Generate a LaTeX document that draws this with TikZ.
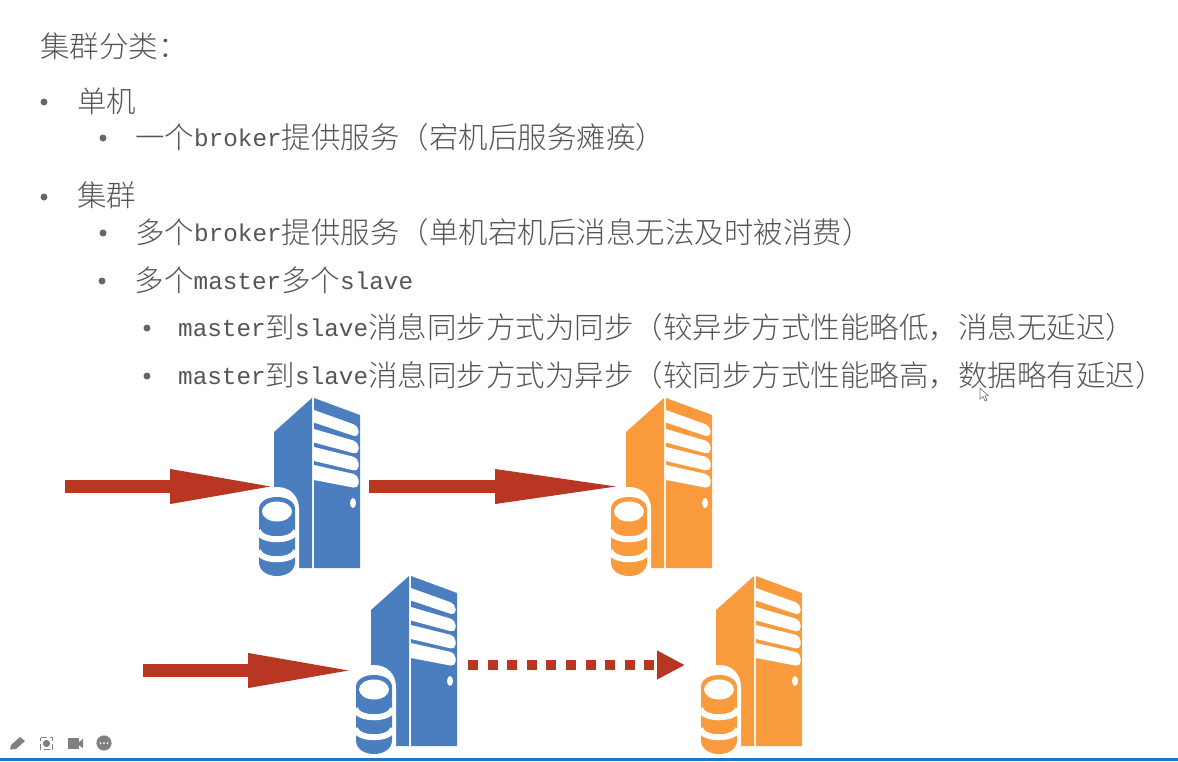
\documentclass[tikz,border=0pt]{standalone}
\usepackage{fontspec}
\usetikzlibrary{arrows.meta}
\setmainfont{Noto Sans CJK SC Light}
\newfontfamily\latfont{Liberation Mono}
\newcommand{\lat}[1]{\raisebox{1.8pt}{\latfont\fontsize{24.3}{29}\selectfont #1}}
\definecolor{txt}{HTML}{555555}
\definecolor{srvblue}{HTML}{4A7EBF}
\definecolor{srvorange}{HTML}{F99B3D}
\definecolor{arrowred}{HTML}{B83622}
\definecolor{toolgray}{HTML}{808080}
\definecolor{barblue}{HTML}{1F74CC}
\tikzset{
  x=1pt,y=-1pt,
  line/.style={anchor=base west,inner sep=0pt,text=txt,font=\fontsize{29.5}{34}\selectfont},
  bulletdot/.style={circle,fill=#1,minimum size=7pt,inner sep=0pt},
  bulletdot/.default=txt!90,
  blockarrow/.style={arrowred,line width=13pt,-{Triangle[length=109pt,width=31pt]}},
  blockarrowlong/.style={arrowred,line width=13pt,-{Triangle[length=131pt,width=31pt]}},
  dotarrow/.style={arrowred,line width=10pt,dash pattern=on 10pt off 9.6pt,-{Triangle[length=28pt,width=27pt]}},
  pics/server/.style={code={
    \fill[#1] (274,432) -- (312,398) -- (312,568) -- (274,568) -- cycle;
    \fill[#1] (314,398) -- (360,415) -- (360,568) -- (314,568) -- cycle;
    \fill[white] (314,410) [rounded corners=5pt] -- (358.5,426) -- (358.5,437.5) [sharp corners] -- (314,422.5) -- cycle;
    \fill[white] (314,429) [rounded corners=5pt] -- (358.5,442) -- (358.5,454.5) [sharp corners] -- (314,442.5) -- cycle;
    \fill[white] (314,447) [rounded corners=5pt] -- (358.5,458) -- (358.5,471.5) [sharp corners] -- (314,461) -- cycle;
    \fill[white] (314,465) [rounded corners=5pt] -- (358.5,475) -- (358.5,488.5) [sharp corners] -- (314,480) -- cycle;
    \fill[white] (353,503) ellipse [x radius=3pt,y radius=5pt];
    \fill[white] (252,487) -- (277,487) .. controls (290,487) and (299,496) .. (299,509) -- (299,576) -- (252,576) -- cycle;
    \fill[#1] (259,509) .. controls (259,493) and (295,493) .. (295,509) -- (295,562) .. controls (295,580.7) and (259,580.7) .. (259,562) -- cycle;
    \fill[white] (277,511.5) ellipse [x radius=15pt,y radius=10pt];
    \draw[white,line width=6pt] (258,531) .. controls (262,542) and (292,542) .. (296,531);
    \draw[white,line width=6pt] (258,551) .. controls (262,562) and (292,562) .. (296,551);
  }},
}
\begin{document}
\begin{tikzpicture}
\useasboundingbox (0,0) rectangle (1178,761);
\fill[white] (0,0) rectangle (1178,761);
% text
\node[line] (title) at (40,57) {集群分类：};
\node[bulletdot] (b1) at (44,102) {};
\node[line] (t1) at (77,112) {单机};
\node[bulletdot] (b2) at (103,138) {};
\node[line] (t2) at (135,148) {一个\lat{broker}提供服务（宕机后服务瘫痪）};
\node[bulletdot] (b3) at (44,197) {};
\node[line] (t3) at (77,206) {集群};
\node[bulletdot] (b4) at (103,233) {};
\node[line] (t4) at (135,243) {多个\lat{broker}提供服务（单机宕机后消息无法及时被消费）};
\node[bulletdot] (b5) at (102,281) {};
\node[line] (t5) at (134.5,291) {多个\lat{master}多个\lat{slave}};
\node[bulletdot] (b6) at (147,328) {};
\node[line] (t6) at (178,338) {\lat{master}到\lat{slave}消息同步方式为同步（较异步方式性能略低，消息无延迟）};
\node[bulletdot] (b7) at (147,376) {};
\node[line] (t7) at (178,386) {\lat{master}到\lat{slave}消息同步方式为异步（较同步方式性能略高，数据略有延迟）};
% servers
\pic (s1) at (0,0) {server=srvblue};
\pic (s2) at (352,0) {server=srvorange};
\pic (s3) at (97,178) {server=srvblue};
\pic (s4) at (442,178) {server=srvorange};
% connectors
\coordinate (a0) at (65,486.5);
\coordinate (a1) at (279,486.5);
\coordinate (a2) at (369,486.5);
\coordinate (a3) at (626,486.5);
\coordinate (a4) at (143,670.5);
\coordinate (a5) at (357,670.5);
\coordinate (a6) at (468,665);
\coordinate (a7) at (685,665);
\draw[blockarrow] (a0) -- (a1);
\draw[blockarrowlong] (a2) -- (a3);
\draw[blockarrow] (a4) -- (a5);
\draw[dotarrow] (a6) -- (a7);
% cursor
\draw[fill=white,draw=gray,line width=.7pt] (980,388) -- (980,399) -- (983,396.5) -- (985,401) -- (987,400) -- (985,396) -- (988,395.5) -- cycle;
% toolbar
\fill[toolgray] (10,749.5) -- (11,745) -- (20,737) -- (25,741) -- (16,749) -- cycle;
\draw[toolgray,line width=1.6pt,dash pattern=on 6pt off 3pt,dash phase=3pt] (40.5,737.5) rectangle (52.5,749.5);
\fill[toolgray] (46.5,743.5) circle [radius=3.6pt];
\fill[toolgray] (68,738) rectangle (79,749);
\fill[toolgray] (79,742) -- (83,739) -- (83,748) -- (79,745.5) -- cycle;
\fill[toolgray] (104,743) circle [radius=7.6pt];
\fill[white] (100.5,743) circle [radius=1pt] (104,743) circle [radius=1pt] (107.5,743) circle [radius=1pt];
\fill[barblue] (0,758) rectangle (1178,761);
\end{tikzpicture}
\end{document}
